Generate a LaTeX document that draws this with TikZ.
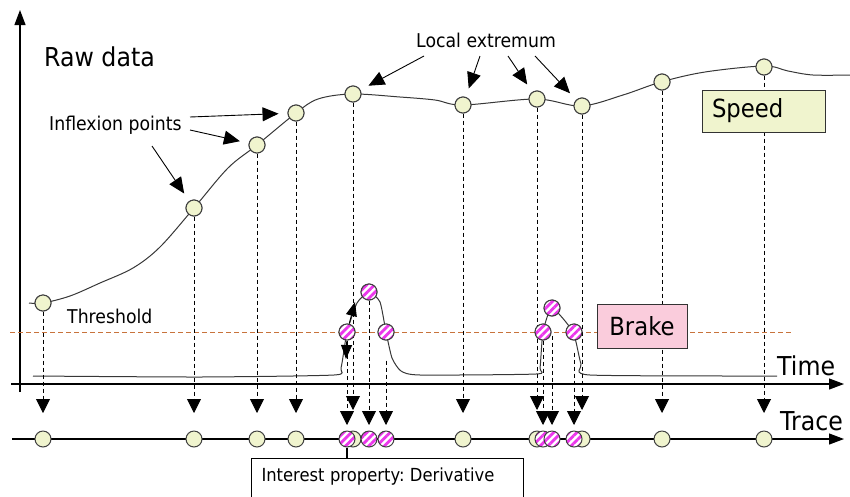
\documentclass[tikz,border=0pt]{standalone}
\usepackage{fontspec}
\setmainfont{DejaVu Sans}
\usepackage{graphicx}
\usetikzlibrary{arrows.meta,patterns.meta}
\definecolor{ylw}{RGB}{240,244,206}
\definecolor{pnk}{RGB}{250,204,220}
\definecolor{mag}{RGB}{235,55,235}
\definecolor{thr}{RGB}{200,115,60}
\definecolor{crv}{RGB}{55,55,55}
\newcommand{\sq}[1]{\scalebox{0.91}[1]{#1}}
\frenchspacing
\begin{document}
\begin{tikzpicture}[x=1pt,y=-1pt,
  yc/.style={circle,draw=black!75,line width=1pt,fill=ylw,minimum size=16pt,inner sep=0pt},
  pc/.style={circle,draw=black!75,line width=1pt,minimum size=16pt,inner sep=0pt,
    preaction={fill=white},pattern={Lines[angle=45,distance=5.5pt,line width=2.8pt]},pattern color=mag},
  drop/.style={dash pattern=on 4pt off 3pt,line width=0.9pt,-{Triangle[length=14pt,width=14pt]}},
  ann/.style={line width=0.9pt,-{Triangle[length=16pt,width=14pt]},shorten >=9pt},
  axisline/.style={line width=1.2pt,-{Triangle[length=15pt,width=11pt]}},
  lbl/.style={inner sep=0pt,font=\fontsize{19}{22}\selectfont},
  big/.style={inner sep=0pt,font=\fontsize{26}{30}\selectfont},
]
\useasboundingbox (0,0) rectangle (850,496);
\clip (0,0) rectangle (850,496);

% axes
\coordinate (yb) at (20,392); \coordinate (yt) at (20,10);
\draw[axisline] (yb) -- (yt);
\coordinate (xl) at (11,384); \coordinate (xr) at (844,384);
\draw[axisline] (xl) -- (xr);
\coordinate (tl) at (12,439); \coordinate (tr) at (844,439);
\draw[axisline] (tl) -- (tr);

% threshold
\coordinate (th1) at (10,332); \coordinate (th2) at (792,332);
\draw[thr,dash pattern=on 5pt off 3pt,line width=1pt] (th1) -- (th2);

% speed curve
\draw[crv,line width=1pt] plot[smooth,tension=0.55] coordinates {
 (29,303) (43,303) (70,296) (100,283) (133,268) (160,247) (194,208) (228,168)
 (257,145) (296,113) (318,99) (352,94) (400,97) (435,100) (463,105) (536,99)
 (581,106) (623,95) (661,82) (705,72) (764,66) (788,71) (813,75) (850,75)};

% brake curve
\draw[crv,line width=1pt] plot[smooth,tension=0.35] coordinates {
 (33,376) (200,377) (334,375) (341,368) (347,332) (357,303) (369,292) (380,302)
 (386,332) (392,358) (401,371) (420,375) (536,374) (540,368) (543,332) (552,308)
 (573,332) (581,364) (590,375) (777,376)};

% speed points
\node[yc] (s0) at (43,303) {};
\node[yc] (s1) at (194,208) {};
\node[yc] (s2) at (257,145) {};
\node[yc] (s3) at (296,113) {};
\node[yc] (s4) at (353,94) {};
\node[yc] (s5) at (463,105) {};
\node[yc] (s6) at (537,99) {};
\node[yc] (s7) at (582,106) {};
\node[yc] (s8) at (662,82) {};
\node[yc] (s9) at (764,67) {};

% brake points
\node[pc] (b1) at (347,332) {};
\node[pc] (b2) at (369,292) {};
\node[pc] (b3) at (386,332) {};
\node[pc] (b4) at (543,332) {};
\node[pc] (b5) at (552,308) {};
\node[pc] (b6) at (574,332) {};

% drop arrows
\coordinate (hi) at (0,413);
\coordinate (up) at (0,410);
\coordinate (lo) at (0,425);
\foreach \n in {s0,s1,s2,s3,s5,s8,s9}
  \draw[drop] (\n.south) -- (\n.south |- hi);
\foreach \n in {s4,s6,s7}
  \draw[drop] (\n.south) -- (\n.south |- up);
\draw[drop] (b1.south) -- (b1.south |- lo);
\draw[drop] (b2.south) -- (b2.south |- lo);
\draw[drop] ([yshift=-20pt]b3.south) -- (b3.south |- lo);
\draw[drop] (b4.south) -- (b4.south |- lo);
\draw[drop] ([yshift=-19pt]b5.south) -- (b5.south |- lo);
\draw[drop] ([yshift=-12pt]b6.south) -- (b6.south |- lo);

% redraw points on top of dashed lines
\foreach \x/\y in {43/303,194/208,257/145,296/113,353/94,463/105,537/99,582/106,662/82,764/67}
  \node[yc] at (\x,\y) {};
\foreach \x/\y in {347/332,369/292,386/332,543/332,552/308,574/332}
  \node[pc] at (\x,\y) {};

% derivative arrows at first rise
\coordinate (d1) at (355,302);
\coordinate (d2) at (346,359);
\draw[line width=0.9pt,-{Triangle[length=14pt,width=11pt]}] (b1) -- (d1);
\draw[line width=0.9pt,-{Triangle[length=14pt,width=11pt]}] (b1) -- (d2);

% trace points
\coordinate (tp) at (0,439);
\foreach \n in {s0,s1,s2,s3,s4,s5,s6,s7,s8,s9}
  \node[yc] (t\n) at (\n |- tp) {};
\foreach \n in {b1,b2,b3,b4,b5,b6}
  \node[pc] (t\n) at (\n |- tp) {};

% boxes
\node[draw=black!80,line width=1pt,fill=ylw,minimum width=123pt,minimum height=42pt,
  text width=103pt,align=left,inner sep=0pt,font=\fontsize{25}{30}\selectfont]
  (speed) at (763.5,111) {\sq{Speed}};
\node[draw=black!80,line width=1pt,fill=pnk,minimum width=90pt,minimum height=44pt,
  inner sep=0pt,font=\fontsize{25}{30}\selectfont]
  (brake) at (642,326) {\sq{Brake}};
\node[draw,line width=1pt,fill=white,anchor=north west,text width=252pt,inner xsep=10pt,
  inner ysep=9pt,text height=13.7pt,text depth=22pt,align=left,font=\fontsize{18}{22}\selectfont]
  (intp) at (251,458) {\sq{Interest property: Derivative}};
\draw[line width=1.5pt] (tb1) -- (tb1 |- intp.north);

% labels
\node[big,anchor=base west] (raw) at (44,66) {\sq{Raw data}};
\node[lbl,anchor=base west] (infl) at (49,130) {\sq{Inflexion points}};
\node[lbl,anchor=base west] (thrl) at (67,323) {\sq{Threshold}};
\node[lbl,anchor=base west] (lext) at (416,47) {\sq{Local extremum}};
\node[big,anchor=base west] (time) at (777,375) {\sq{Time}};
\node[big,anchor=base west] (trace) at (780,430) {\sq{Trace}};

% annotation arrows
\coordinate (ia) at (190,117); \coordinate (ib) at (190,130); \coordinate (ic) at (152,146);
\draw[ann] (ia) -- (s3);
\draw[ann] (ib) -- (s2);
\draw[ann] (ic) -- (s1);
\coordinate (la) at (424,56); \coordinate (lb) at (480,56);
\coordinate (lc) at (508,56); \coordinate (ld) at (535,56);
\draw[ann] (la) -- (s4);
\draw[ann] (lb) -- (s5);
\draw[ann] (lc) -- (s6);
\draw[ann] (ld) -- (s7);
\end{tikzpicture}
\end{document}
